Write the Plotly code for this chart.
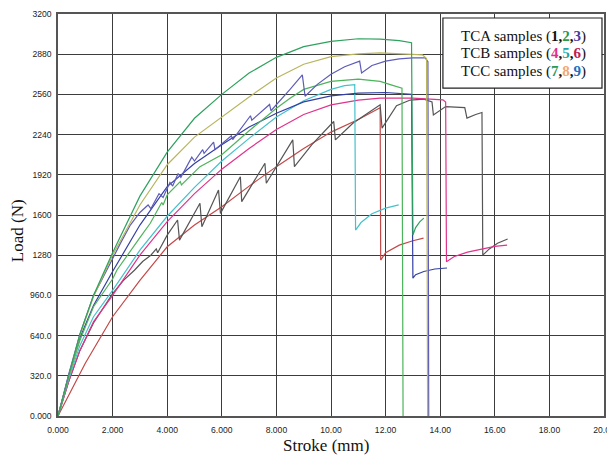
import plotly.graph_objects as go

# ---- data ----
x_ticks = [0, 2, 4, 6, 8, 10, 12, 14, 16, 18, 20]
x_ticktext = ["0.000", "2.000", "4.000", "6.000", "8.000", "10.00", "12.00", "14.00", "16.00", "18.00", "20.00"]
y_ticks = [0, 320, 640, 960, 1280, 1600, 1920, 2240, 2560, 2880, 3200]
y_ticktext = ["0.000", "320.0", "640.0", "960.0", "1280", "1600", "1920", "2240", "2560", "2880", "3200"]

green_top_x = [0, 0.4, 0.8, 1.3, 2.0, 3.0, 4.0, 5.0, 6.0, 7.0, 8.0, 9.0, 10.0, 11.0, 11.8, 12.5, 12.95, 13.0, 13.1, 13.25, 13.4]
green_top_y = [0, 330, 650, 960, 1300, 1750, 2100, 2370, 2560, 2730, 2855, 2940, 2982, 3003, 3000, 2988, 2972, 1440, 1500, 1545, 1575]

olive_x = [0, 0.4, 0.8, 1.3, 2.0, 3.0, 4.0, 5.0, 6.0, 7.0, 8.0, 9.0, 10.0, 11.0, 11.8, 12.5, 13.35, 13.5, 13.54]
olive_y = [0, 330, 640, 950, 1280, 1680, 2000, 2220, 2380, 2540, 2690, 2800, 2860, 2883, 2890, 2885, 2875, 2845, 0]

purple_x = [0, 0.4, 0.8, 1.3, 1.55, 2.0, 2.3, 2.65, 3.0, 3.3, 3.4, 3.7, 3.85, 4.1, 4.2, 4.4, 4.5, 4.9, 5.0, 5.3, 5.35,
            5.7, 5.75, 6.35, 6.4, 7.05, 7.1, 7.75, 7.8, 8.5, 8.95, 9.05, 9.5, 10.0, 10.5, 11.05, 11.12, 11.5, 12.0,
            12.5, 13.0, 13.45, 13.55, 13.58]
purple_y = [0, 340, 650, 960, 1060, 1260, 1380, 1520, 1620, 1680, 1650, 1770, 1740, 1860, 1830, 1930, 1900, 2060, 2030, 2120, 2090,
            2180, 2120, 2230, 2200, 2390, 2355, 2480, 2430, 2600, 2716, 2545, 2640, 2720, 2780, 2825, 2730, 2790, 2825,
            2843, 2850, 2850, 2820, 0]

navy_x = [0, 0.4, 0.8, 1.3, 2.0, 3.0, 4.0, 5.0, 6.0, 7.0, 8.0, 9.0, 10.0, 11.0, 12.0, 12.95, 13.0, 13.1, 13.4, 13.8, 14.25]
navy_y = [0, 330, 620, 880, 1150, 1520, 1826, 2010, 2160, 2300, 2410, 2500, 2548, 2570, 2575, 2560, 1097, 1125, 1150, 1170, 1178]

green2_x = [0, 0.4, 0.8, 1.3, 2.0, 2.16, 3.0, 3.38, 3.8, 3.85, 4.0, 4.48, 4.52, 5.2, 6.0, 7.0, 8.0, 8.5, 9.0, 10.0, 11.0, 11.8, 12.2, 12.6, 12.64]
green2_y = [0, 320, 600, 870, 1090, 1162, 1420, 1534, 1700, 1680, 1760, 1866, 1840, 1985, 2080, 2270, 2450, 2530, 2600, 2663, 2682, 2663, 2636, 2610, 0]

cyan_x = [0, 0.4, 0.8, 1.3, 2.0, 3.0, 4.0, 5.0, 6.0, 7.0, 8.0, 9.0, 10.0, 10.5, 10.87, 10.9, 11.1, 11.5, 12.0, 12.48]
cyan_y = [0, 300, 560, 790, 1000, 1320, 1590, 1820, 2030, 2210, 2380, 2510, 2600, 2630, 2638, 1480, 1540, 1610, 1655, 1680]

magenta_x = [0, 0.4, 0.8, 1.3, 2.0, 3.0, 4.0, 5.0, 6.0, 7.0, 8.0, 9.0, 10.0, 11.0, 11.8, 13.0, 14.1, 14.2, 14.23, 14.5, 15.0, 15.5, 16.0, 16.45]
magenta_y = [0, 280, 520, 750, 960, 1280, 1547, 1770, 1965, 2130, 2280, 2400, 2477, 2515, 2530, 2530, 2517, 2500, 1228, 1268, 1305, 1330, 1350, 1360]

gray_x = [0, 0.4, 0.8, 1.3, 2.0, 2.4, 2.8, 3.1, 3.4, 3.6, 3.65, 4.0, 4.38, 4.45, 5.2, 5.27, 5.88, 5.95, 6.68, 6.73, 7.58, 7.63,
          8.6, 8.66, 9.3, 10.1, 10.16, 10.8, 11.8, 11.87, 12.4, 12.9, 13.4, 13.7, 13.75, 14.2, 14.9, 14.98, 15.3, 15.53,
          15.56, 15.8, 16.1, 16.47]
gray_y = [0, 280, 520, 740, 975, 1080, 1160, 1230, 1280, 1330, 1300, 1440, 1560, 1400, 1693, 1507, 1799, 1613, 1905, 1706, 2012, 1853,
          2198, 1985, 2160, 2344, 2198, 2330, 2477, 2291, 2470, 2515, 2522, 2500, 2397, 2463, 2455, 2371, 2400, 2416,
          1281, 1330, 1375, 1409]

red_x = [0, 0.5, 1.0, 2.0, 3.0, 4.0, 5.0, 6.0, 7.0, 8.0, 9.0, 10.0, 11.0, 11.8, 11.82, 12.0, 12.5, 13.0, 13.39]
red_y = [0, 215, 420, 790, 1080, 1347, 1520, 1666, 1830, 1985, 2130, 2260, 2360, 2453, 1241, 1300, 1360, 1395, 1416]

series = [
    ("red", red_x, red_y, "#c44848"),
    ("gray", gray_x, gray_y, "#555555"),
    ("magenta", magenta_x, magenta_y, "#e0338c"),
    ("cyan", cyan_x, cyan_y, "#43c2cc"),
    ("navy", navy_x, navy_y, "#3440a4"),
    ("green2", green2_x, green2_y, "#4cb45a"),
    ("purple", purple_x, purple_y, "#5d5cb8"),
    ("olive", olive_x, olive_y, "#b8b55e"),
    ("green_top", green_top_x, green_top_y, "#2ea25e"),
]

fig = go.Figure()
for name, xs, ys, col in series:
    fig.add_trace(go.Scatter(x=xs, y=ys, mode="lines", name=name,
                             line=dict(color=col, width=1.2), showlegend=False))

tick_font = dict(family="Liberation Sans, Arial, sans-serif", size=8.6, color="#222222")
fig.update_xaxes(range=[0, 20], tickvals=x_ticks, ticktext=x_ticktext, tickfont=tick_font,
                 showgrid=True, gridcolor="#3c3c3c", gridwidth=1.3, zeroline=False,
                 showline=True, linecolor="#555555", linewidth=1.5, mirror=True,
                 ticks="", ticklabelstandoff=5, automargin=False, ticklabeloverflow="allow")
fig.update_yaxes(range=[0, 3200], tickvals=y_ticks, ticktext=y_ticktext, tickfont=tick_font,
                 showgrid=True, gridcolor="#3c3c3c", gridwidth=1.3, zeroline=False,
                 showline=True, linecolor="#555555", linewidth=1.5, mirror=True,
                 ticks="", ticklabelstandoff=3, automargin=False, ticklabeloverflow="allow")

serif = "Liberation Serif, Times New Roman, serif"
annotations = [
    dict(text="Stroke (mm)", xref="paper", yref="paper", x=0.49, y=-0.073, xanchor="center", yanchor="middle",
         showarrow=False, borderpad=0, font=dict(family=serif, size=17, color="#111111")),
    dict(text="Load (N)", xref="paper", yref="paper", x=-0.075, y=0.46, xanchor="center", yanchor="middle",
         textangle=-90, showarrow=False, font=dict(family=serif, size=17, color="#111111")),
]
legend_lines = [
    'TCA samples (<b><span style="color:#111111">1</span>,<span style="color:#2a9a4a">2</span>,<span style="color:#4a3aa0">3</span></b>)',
    'TCB samples (<b><span style="color:#e0308a">4</span>,<span style="color:#1fa3a3">5</span>,<span style="color:#c02050">6</span></b>)',
    'TCC samples (<b><span style="color:#2a9a5a">7</span>,<span style="color:#f2a878">8</span>,<span style="color:#2070c0">9</span></b>)',
]
for txt, yy in zip(legend_lines, [0.9447, 0.9011, 0.8575]):
    annotations.append(dict(text=txt, xref="paper", yref="paper", x=0.735, y=yy, xanchor="left", yanchor="middle",
                            showarrow=False, font=dict(family=serif, size=15, color="#111111")))

# page body has an 8px margin, so the figure is made 8px smaller and margins shifted accordingly
fig.update_layout(
    width=607, height=447,
    margin=dict(l=50, r=11, t=6, b=39, autoexpand=False),
    paper_bgcolor="white", plot_bgcolor="white",
    annotations=annotations,
    shapes=[dict(type="rect", xref="paper", yref="paper", x0=0.705, x1=0.9963, y0=0.8157, y1=0.990,
                 fillcolor="white", line=dict(color="#222222", width=1.2), layer="above")],
)

fig.write_html("out.html")
